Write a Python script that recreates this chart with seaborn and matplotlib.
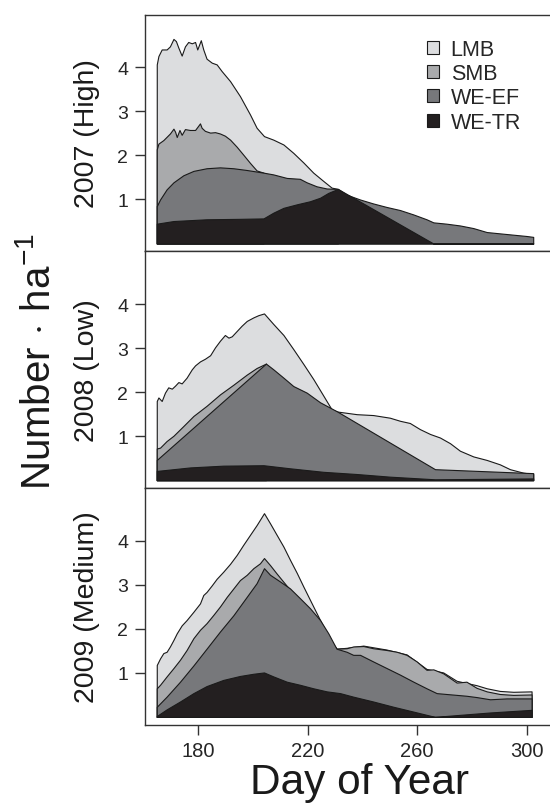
import matplotlib
matplotlib.use("Agg")
import matplotlib.pyplot as plt
import seaborn as sns
from matplotlib.patches import Patch

# species layers (drawn back to front) and their greys
species = ["LMB", "SMB", "WE-EF", "WE-TR"]
colors = ["#dcdddf", "#a9aaac", "#77787b", "#231f20"]
years = ["2007 (High)", "2008 (Low)", "2009 (Medium)"]
xticks = [180, 220, 260, 300]
yticks = [1, 2, 3, 4]

# ---- 2007 : top edge of each stacked layer (number / ha) ----
day_07_lmb = [164.8, 165.4, 166.6, 168.4, 169.6, 170.9, 171.8, 172.7, 173.9, 175.1, 176.3,
              177.6, 178.8, 179.6, 180.9, 181.8, 183.0, 184.9, 186.7, 188.5, 191.6, 195.2,
              198.9, 201.3, 204.0, 207.4, 211.1, 214.7, 218.4, 222.0, 225.7, 228.7, 231.0]
num_07_lmb = [4.07, 4.26, 4.41, 4.41, 4.48, 4.65, 4.60, 4.45, 4.27, 4.48, 4.58,
              4.55, 4.58, 4.41, 4.62, 4.41, 4.20, 4.11, 4.07, 3.92, 3.69, 3.35,
              2.93, 2.63, 2.44, 2.36, 2.25, 2.06, 1.84, 1.61, 1.42, 1.27, 1.24]
day_07_smb = [164.8, 165.4, 167.2, 169.6, 170.9, 171.5, 172.1, 173.1, 173.9, 175.1, 176.9,
              178.8, 180.6, 181.2, 182.4, 184.3, 186.1, 187.9, 189.7, 191.6, 194.0, 196.4,
              198.9, 201.3, 203.8]
num_07_smb = [2.14, 2.27, 2.35, 2.50, 2.61, 2.54, 2.42, 2.58, 2.47, 2.60, 2.58,
              2.58, 2.73, 2.63, 2.56, 2.52, 2.53, 2.50, 2.45, 2.36, 2.20, 2.02,
              1.83, 1.66, 1.61]
day_07_wef = [164.8, 166.0, 168.4, 170.9, 174.5, 178.2, 183.0, 187.9, 192.8, 197.7, 203.8,
              207.4, 212.3, 217.1, 219.6, 223.2, 226.9, 231.0, 234.2, 239.1, 243.9, 248.8,
              253.7, 258.6, 263.4, 265.9, 270.7, 275.6, 280.5, 285.4, 290.2, 295.1, 300.0, 302.4]
num_07_wef = [0.85, 1.00, 1.23, 1.39, 1.55, 1.65, 1.71, 1.73, 1.71, 1.67, 1.61,
              1.57, 1.49, 1.47, 1.39, 1.30, 1.25, 1.24, 1.11, 1.00, 0.91, 0.83,
              0.76, 0.66, 0.55, 0.48, 0.45, 0.41, 0.35, 0.26, 0.23, 0.20, 0.17, 0.15]
day_07_wtr = [164.8, 170.9, 183.0, 195.2, 203.8, 207.4, 211.1, 216.0, 220.8, 224.5, 227.5,
              231.0, 265.9, 302.4]
num_07_wtr = [0.45, 0.51, 0.55, 0.56, 0.57, 0.70, 0.81, 0.89, 0.96, 1.04, 1.15,
              1.24, 0.0, 0.0]

# ---- 2008 ----
day_08_lmb = [164.8, 165.4, 166.6, 167.8, 169.0, 170.3, 171.5, 172.7, 173.9, 175.7, 177.6,
              178.8, 180.6, 182.4, 184.3, 186.1, 187.9, 189.7, 191.0, 192.2, 194.0, 195.8,
              197.7, 200.1, 201.9, 204.0, 207.4, 211.1, 214.7, 218.4, 222.0, 225.7, 228.7,
              230.8, 237.9, 243.9, 250.0, 253.7, 257.3, 261.0, 264.7, 268.3, 272.0, 275.6,
              280.5, 285.4, 290.2, 293.9, 298.8, 302.4]
num_08_lmb = [1.80, 1.88, 1.80, 1.99, 2.11, 2.08, 2.15, 2.23, 2.20, 2.33, 2.52,
              2.61, 2.70, 2.76, 2.84, 3.02, 3.17, 3.30, 3.24, 3.27, 3.39, 3.51,
              3.62, 3.70, 3.75, 3.79, 3.55, 3.30, 2.98, 2.64, 2.30, 1.92, 1.61,
              1.56, 1.50, 1.48, 1.42, 1.35, 1.30, 1.16, 1.05, 0.97, 0.84, 0.67,
              0.54, 0.46, 0.36, 0.25, 0.17, 0.14]
day_08_smb = [164.8, 166.0, 168.4, 170.9, 174.5, 178.2, 183.0, 187.9, 192.8, 197.7, 201.3, 204.7]
num_08_smb = [0.72, 0.74, 0.89, 1.01, 1.23, 1.46, 1.69, 1.95, 2.17, 2.40, 2.55, 2.65]
day_08_wef = [164.8, 204.7, 207.4, 211.1, 214.7, 219.6, 224.5, 230.8, 266.5, 302.4]
num_08_wef = [0.46, 2.65, 2.52, 2.33, 2.14, 1.99, 1.77, 1.56, 0.25, 0.16]
day_08_wtr = [164.8, 177.0, 189.1, 203.8, 213.5, 225.7, 237.9, 250.0, 266.5, 302.4]
num_08_wtr = [0.21, 0.29, 0.33, 0.34, 0.27, 0.19, 0.14, 0.08, 0.02, 0.04]

# ---- 2009 ----
day_09_lmb = [164.8, 166.0, 167.2, 168.4, 169.6, 170.9, 172.1, 173.9, 175.7, 178.2, 180.6,
              181.8, 183.0, 184.9, 186.7, 189.1, 191.6, 194.0, 196.4, 198.9, 201.3, 204.0,
              206.2, 208.6, 211.1, 213.5, 216.0, 218.4, 220.8, 223.2, 225.7, 228.1, 230.5,
              234.2, 240.3, 248.8, 256.1, 263.4, 269.5, 274.4, 281.7, 285.4, 290.2, 295.1, 301.8]
num_09_lmb = [1.18, 1.33, 1.45, 1.48, 1.60, 1.75, 1.90, 2.08, 2.20, 2.39, 2.58,
              2.77, 2.84, 2.99, 3.14, 3.30, 3.48, 3.68, 3.91, 4.14, 4.36, 4.63,
              4.40, 4.14, 3.87, 3.57, 3.27, 2.96, 2.66, 2.36, 2.05, 1.75, 1.55,
              1.57, 1.62, 1.53, 1.42, 1.09, 1.01, 0.82, 0.72, 0.65, 0.59, 0.57, 0.58]
day_09_smb = [164.8, 166.0, 168.4, 170.9, 173.3, 175.7, 178.2, 180.6, 183.0, 185.5, 187.9,
              190.4, 192.8, 195.2, 197.7, 200.1, 202.5, 204.0, 206.2, 208.6, 211.1, 214.7,
              218.4, 222.0, 225.7, 228.1, 230.5, 234.2, 236.6, 240.3, 243.9, 248.8, 252.5,
              256.1, 259.8, 263.4, 265.9, 269.5, 274.4, 278.0, 281.7, 285.4, 290.2, 295.1, 301.8]
num_09_smb = [0.65, 0.73, 0.92, 1.11, 1.30, 1.52, 1.79, 1.98, 2.13, 2.32, 2.51,
              2.73, 2.92, 3.11, 3.23, 3.38, 3.49, 3.61, 3.45, 3.26, 3.07, 2.80,
              2.54, 2.27, 1.97, 1.75, 1.55, 1.56, 1.60, 1.61, 1.56, 1.52, 1.48,
              1.41, 1.26, 1.07, 1.08, 0.99, 0.78, 0.80, 0.66, 0.58, 0.52, 0.50, 0.51]
day_09_wef = [164.8, 168.4, 173.3, 178.2, 183.0, 187.9, 192.8, 197.7, 201.3, 204.0, 206.2,
              209.8, 213.5, 217.1, 220.8, 224.5, 227.5, 230.5, 234.2, 236.6, 239.1, 243.9,
              248.8, 253.7, 258.6, 263.4, 267.1, 270.7, 274.4, 278.0, 281.7, 286.6, 292.7, 301.8]
num_09_wef = [0.23, 0.46, 0.80, 1.17, 1.55, 1.94, 2.31, 2.73, 3.04, 3.38, 3.23,
              3.08, 2.92, 2.70, 2.47, 2.20, 1.90, 1.55, 1.48, 1.41, 1.41, 1.26,
              1.11, 0.96, 0.80, 0.65, 0.54, 0.52, 0.50, 0.48, 0.45, 0.40, 0.42, 0.42]
day_09_wtr = [164.8, 168.4, 173.3, 178.2, 183.0, 189.1, 195.2, 200.1, 204.0, 207.4, 212.3,
              217.1, 222.0, 226.9, 231.8, 236.6, 243.9, 251.3, 258.6, 266.5, 274.4, 286.6, 301.8]
num_09_wtr = [0.02, 0.17, 0.35, 0.54, 0.70, 0.84, 0.93, 0.98, 1.01, 0.92, 0.80,
              0.73, 0.65, 0.58, 0.54, 0.46, 0.35, 0.23, 0.12, 0.0, 0.04, 0.10, 0.16]

panels = [
    [(day_07_lmb, num_07_lmb), (day_07_smb, num_07_smb), (day_07_wef, num_07_wef), (day_07_wtr, num_07_wtr)],
    [(day_08_lmb, num_08_lmb), (day_08_smb, num_08_smb), (day_08_wef, num_08_wef), (day_08_wtr, num_08_wtr)],
    [(day_09_lmb, num_09_lmb), (day_09_smb, num_09_smb), (day_09_wef, num_09_wef), (day_09_wtr, num_09_wtr)],
]

sns.set_style("ticks")
plt.rcParams["font.family"] = ["Liberation Sans", "DejaVu Sans"]
plt.rcParams["mathtext.fontset"] = "custom"
plt.rcParams["mathtext.rm"] = "Liberation Sans"
plt.rcParams["mathtext.it"] = "Liberation Sans:italic"
plt.rcParams["axes.edgecolor"] = "#333333"

W, H = 550, 804
fig = plt.figure(figsize=(W / 100, H / 100), dpi=100)

ax_left, ax_w = 145 / W, 409 / W
ax_h = 236.7 / H
bottoms = [1 - 252.4 / H, 1 - 489.1 / H, 1 - 725.8 / H]

axes = []
for i, layers in enumerate(panels):
    ax = fig.add_axes([ax_left, bottoms[i], ax_w, ax_h])
    for (d, v), c in zip(layers, colors):
        ax.fill_between(d, 0, v, facecolor=c, edgecolor="#1a1a1a", linewidth=0.8)
    ax.set_xlim(160.5, 310)
    ax.set_ylim(-0.18, 5.2)
    ax.set_yticks(yticks)
    ax.spines["right"].set_visible(False)
    for s in ["left", "top", "bottom"]:
        ax.spines[s].set_linewidth(1.0)
    ax.tick_params(axis="y", labelsize=14, length=7, width=1, pad=5, color="#333333")
    if i < 2:
        ax.set_xticks([])
    else:
        ax.set_xticks(xticks)
        ax.tick_params(axis="x", labelsize=14.5, length=7, width=1, pad=5, color="#333333")
    fig.text(87 / W, (bottoms[i] + ax_h / 2), years[i], rotation=90,
             ha="center", va="center", fontsize=20.5, color="#1a1a1a")
    axes.append(ax)

handles = [Patch(facecolor=c, edgecolor="#1a1a1a", linewidth=0.8) for c in colors]
axes[0].legend(handles, species, loc="upper left", bbox_to_anchor=(427 / W, 1 - 40 / H),
               bbox_transform=fig.transFigure, frameon=False, fontsize=15.5,
               handlelength=0.55, handleheight=0.55, handletextpad=0.55,
               labelspacing=0.15, borderpad=0, borderaxespad=0)

fig.text(39 / W, 1 - 362 / H, r"Number$\,\cdot\,$ha$^{-1}$", rotation=90,
         ha="center", va="center", fontsize=29, color="#1a1a1a")
fig.text(360 / W, 1 - 794 / H, "Day of Year", ha="center", va="baseline",
         fontsize=30.5, color="#1a1a1a")

fig.savefig("out.png", dpi=100)
